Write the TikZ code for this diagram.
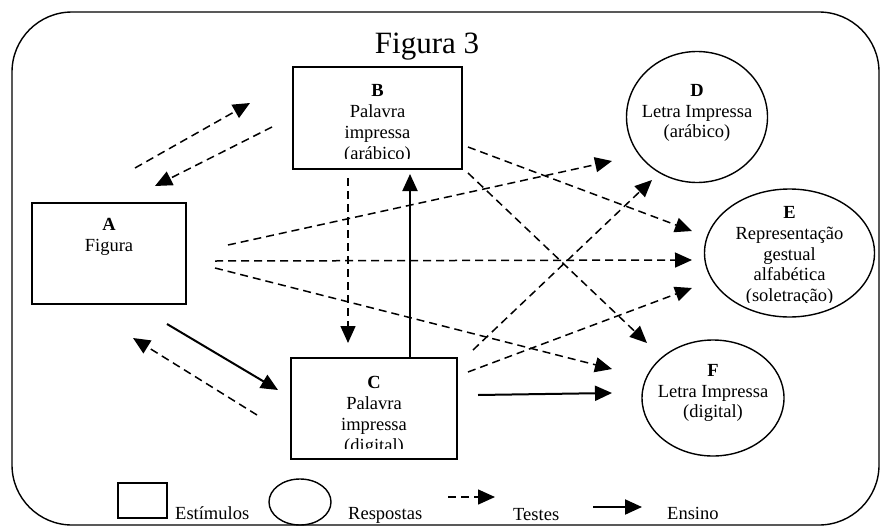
\documentclass[tikz,border=0pt]{standalone}
\usepackage{fontspec}
\setmainfont{Liberation Serif}
\usetikzlibrary{arrows.meta,shapes.geometric}
\begin{document}
\begin{tikzpicture}[x=1pt,y=-1pt,
  txt/.style={inner sep=0pt,align=center,font=\fontsize{18.5}{20.8}\selectfont},
  boxshape/.style={draw,line width=1.4pt,inner sep=0pt},
  ellshape/.style={draw,ellipse,line width=1.4pt,inner sep=0pt},
  teste/.style={line width=1.5pt,dash pattern=on 8pt off 5pt,-{Triangle[length=17pt,width=15pt]}},
  ensino/.style={line width=2pt,-{Triangle[length=17pt,width=15pt]}}]
\useasboundingbox (0,0) rectangle (882,527);
% outer frame
\draw[line width=1.4pt,rounded corners=60pt] (12,12) rectangle (879,525);
\node[inner sep=0pt,font=\fontsize{31}{36}\selectfont] (title) at (427,47) {Figura 3};
% stimulus boxes
\node[boxshape,minimum width=169pt,minimum height=102pt] (B) at (377.5,118) {};
\node[boxshape,minimum width=154pt,minimum height=101pt] (A) at (109,253.5) {};
\node[boxshape,minimum width=166pt,minimum height=101pt] (C) at (374,408.5) {};
% response ellipses
\node[ellshape,minimum width=141pt,minimum height=131pt] (D) at (697,117) {};
\node[ellshape,minimum width=170pt,minimum height=128pt] (E) at (789.5,253) {};
\node[ellshape,minimum width=142pt,minimum height=116pt] (F) at (713,398) {};
% labels
\node[txt] (At) at (109,237) {\textbf{A}\\Figura};
\begin{scope}
\clip (293,67) rectangle (462,158);
\node[txt] (Bt) at (377.5,124) {\textbf{B}\\Palavra\\impressa\\(arábico)};
\end{scope}
\begin{scope}
\clip (291,358) rectangle (457,448);
\node[txt] (Ct) at (374,416) {\textbf{C}\\Palavra\\impressa\\(digital)};
\end{scope}
\node[txt] (Dt) at (697,113) {\textbf{D}\\Letra Impressa\\(arábico)};
\begin{scope}
\clip (700,180) rectangle (882,302);
\node[txt] (Et) at (789.5,256) {\textbf{E}\\Representação\\gestual\\alfabética\\(soletração)};
\end{scope}
\node[txt] (Ft) at (713,393) {\textbf{F}\\Letra Impressa\\(digital)};
% arrow end points
\coordinate (ab1) at (135,168); \coordinate (ab2) at (250,103);
\coordinate (ba1) at (272,127); \coordinate (ba2) at (155,186);
\coordinate (ac1) at (167,324); \coordinate (ac2) at (278,390);
\coordinate (ca1) at (257,415); \coordinate (ca2) at (133,338);
\coordinate (bc1) at (348,178); \coordinate (bc2) at (348,343);
\coordinate (cb1) at (410,357); \coordinate (cb2) at (410,174);
\coordinate (ad1) at (228,245); \coordinate (ad2) at (612,161);
\coordinate (ae1) at (215,261); \coordinate (ae2) at (692,260);
\coordinate (af1) at (215,268); \coordinate (af2) at (612,369);
\coordinate (be1) at (468,147); \coordinate (be2) at (692,231);
\coordinate (bf1) at (468,173); \coordinate (bf2) at (647,343);
\coordinate (cd1) at (473,350); \coordinate (cd2) at (652,180);
\coordinate (ce1) at (468,372); \coordinate (ce2) at (692,288);
\coordinate (cf1) at (478,395); \coordinate (cf2) at (612,393);
% connectors
\draw[teste] (ab1) -- (ab2);
\draw[teste] (ba1) -- (ba2);
\draw[ensino] (ac1) -- (ac2);
\draw[teste] (ca1) -- (ca2);
\draw[teste] (bc1) -- (bc2);
\draw[ensino] (cb1) -- (cb2);
\draw[teste] (ad1) -- (ad2);
\draw[teste] (ae1) -- (ae2);
\draw[teste] (af1) -- (af2);
\draw[teste] (be1) -- (be2);
\draw[teste] (bf1) -- (bf2);
\draw[teste] (cd1) -- (cd2);
\draw[teste] (ce1) -- (ce2);
\draw[ensino] (cf1) -- (cf2);
% legend
\node[boxshape,minimum width=49pt,minimum height=35pt] (lgbox) at (142.5,500.5) {};
\node[txt,anchor=west] (lgest) at (175,513) {Estímulos};
\node[ellshape,minimum width=62pt,minimum height=46pt] (lgell) at (300,502) {};
\node[txt,anchor=west] (lgresp) at (348,515) {Respostas};
\coordinate (lt1) at (448,497); \coordinate (lt2) at (495,497);
\draw[teste] (lt1) -- (lt2);
\node[txt,anchor=west] (lgtest) at (513,515) {Testes};
\coordinate (le1) at (593,507); \coordinate (le2) at (642,507);
\draw[ensino] (le1) -- (le2);
\node[txt,anchor=west] (lgens) at (667,513) {Ensino};
\end{tikzpicture}
\end{document}
